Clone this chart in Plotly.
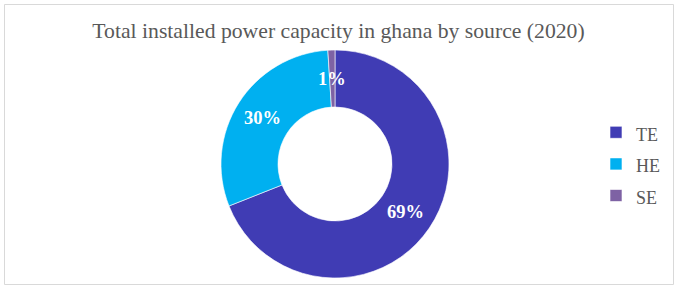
import math
import plotly.graph_objects as go

# Data
sources = ["TE", "HE", "SE"]
shares = [69, 30, 1]
colors = ["#403CB4", "#00B0F0", "#7E62A4"]
title_text = "Total installed power capacity in ghana by source (2020)"

W, H = 678, 290
ml, mr, mt, mb = 221, 229, 50, 12
hole = 0.5
serif = "Liberation Serif, Times New Roman, serif"

fig = go.Figure(go.Pie(
    labels=[f'<span style="font-size:18px">{s}</span>' for s in sources],
    values=shares,
    hole=hole,
    sort=False,
    direction="clockwise",
    rotation=0,
    textinfo="none",
    hoverinfo="label+percent",
    marker=dict(colors=colors, line=dict(color="white", width=0.6)),
    domain=dict(x=[0, 1], y=[0, 1]),
    showlegend=True,
))

# Data labels placed at the ring middle of each slice (computed from data)
total = sum(shares)
cum = 0.0
r_mid = 0.5 * (1 + hole) / 2
annotations = []
for lab, v in zip(sources, shares):
    frac_mid = (cum + v / 2) / total
    cum += v
    th = 2 * math.pi * frac_mid
    annotations.append(dict(
        x=0.5 + r_mid * math.sin(th), y=0.5 + r_mid * math.cos(th),
        xref="paper", yref="paper", showarrow=False,
        text=f"{round(100 * v / total)}%",
        font=dict(family=serif, size=18.5, color="white", weight="bold"),
        xanchor="center", yanchor="middle",
    ))

pw = W - ml - mr
ph = H - mt - mb
def px_x(p):
    return (p - ml) / pw
def px_y(p):
    return (H - mb - p) / ph

fig.update_layout(
    width=W, height=H,
    margin=dict(l=ml, r=mr, t=mt, b=mb),
    paper_bgcolor="white",
    plot_bgcolor="white",
    title=dict(
        text=title_text,
        x=338.5 / W, xref="container", xanchor="center",
        y=1 - 30 / H, yref="container", yanchor="middle",
        font=dict(family=serif, size=21.7, color="#595959"),
    ),
    legend=dict(
        x=px_x(596), y=0.5, xanchor="left", yanchor="middle",
        font=dict(family=serif, size=22, color="#595959"),
        bgcolor="rgba(0,0,0,0)",
    ),
    annotations=annotations,
    shapes=[dict(
        type="rect", xref="paper", yref="paper",
        x0=px_x(4.5), x1=px_x(673.5), y0=px_y(284.5), y1=px_y(4.5),
        line=dict(color="#D9D9D9", width=1), fillcolor="rgba(0,0,0,0)",
        layer="below",
    )],
)

fig.write_html("out.html", config={"displayModeBar": False},
               post_script="document.body.style.margin='0';")
